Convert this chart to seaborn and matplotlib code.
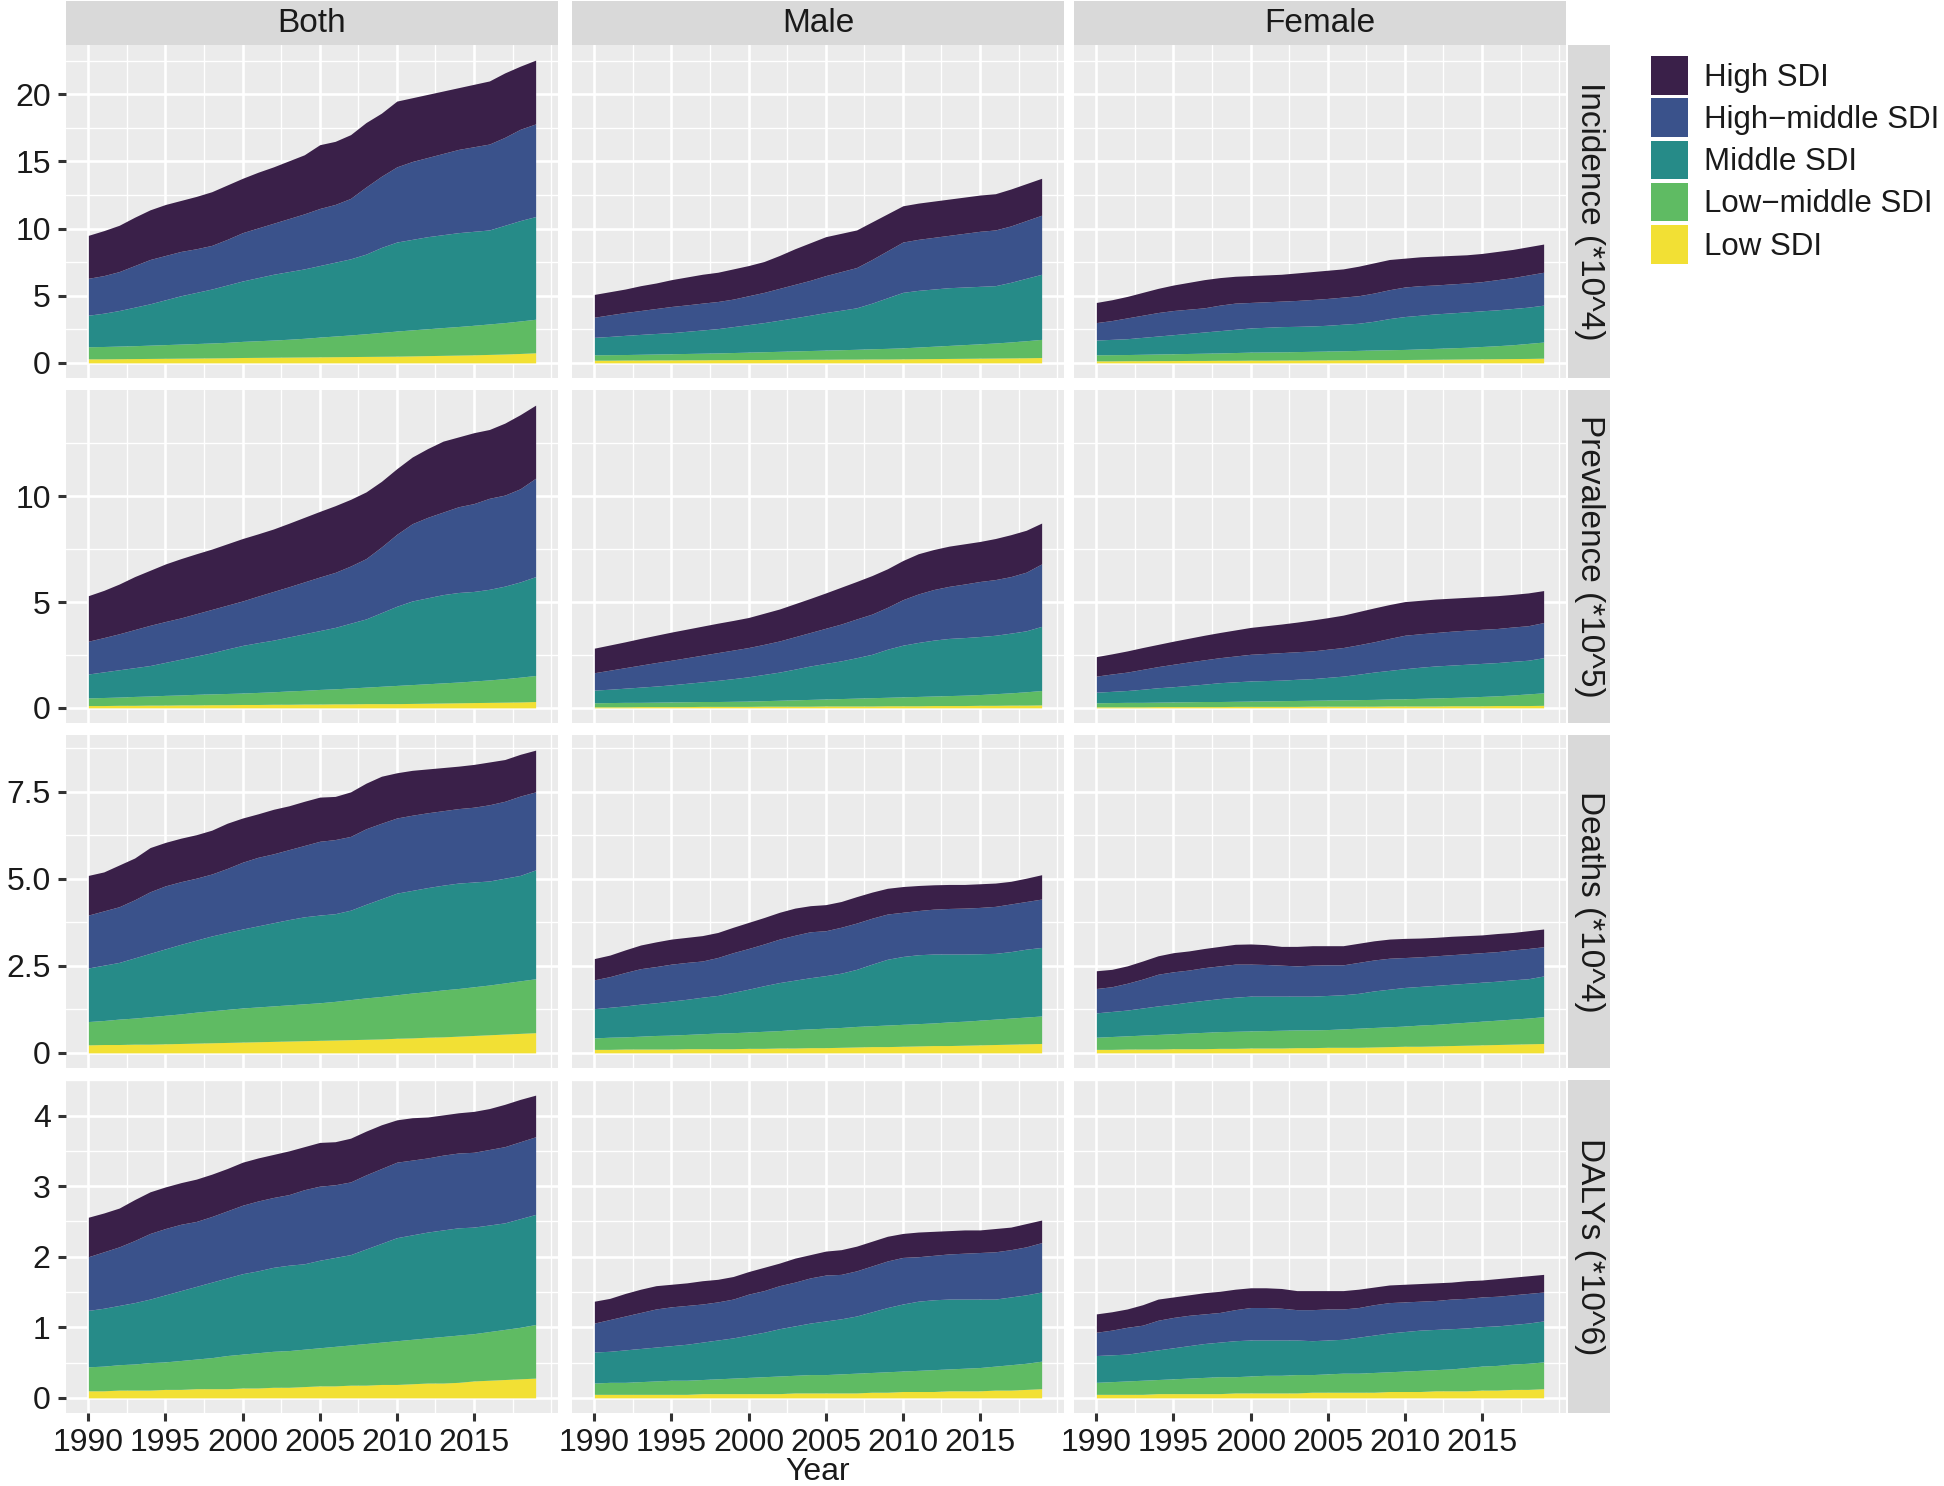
import numpy as np
import pandas as pd
import seaborn as sns
import matplotlib
matplotlib.use("Agg")
import matplotlib.pyplot as plt
from matplotlib.patches import Patch
from matplotlib.ticker import FixedLocator


years = list(range(1990, 2020))
sexes = ["Both", "Male", "Female"]
measures = ["Incidence (*10^4)", "Prevalence (*10^5)", "Deaths (*10^4)", "DALYs (*10^6)"]
regions = ["High SDI", "High\u2212middle SDI", "Middle SDI", "Low\u2212middle SDI", "Low SDI"]
region_keys = ["high", "highmid", "mid", "lowmid", "low"]

x_breaks = [1990, 1995, 2000, 2005, 2010, 2015]
x_labels = ["1990", "1995", "2000", "2005", "2010", "2015"]
y_breaks = [[0, 5, 10, 15, 20], [0, 5, 10], [0, 2.5, 5, 7.5], [0, 1, 2, 3, 4]]
y_labels = [["0", "5", "10", "15", "20"], ["0", "5", "10"],
            ["0", "2.5", "5.0", "7.5"], ["0", "1", "2", "3", "4"]]

# ---- Incidence (*10^4)
inc_both = dict(
    low=[0.30,0.30,0.31,0.32,0.33,0.34,0.35,0.36,0.37,0.38,0.40,0.41,0.42,0.43,0.44,0.45,0.46,0.47,0.48,0.49,0.50,0.52,0.54,0.56,0.58,0.60,0.63,0.66,0.70,0.75],
    lowmid=[0.90,0.92,0.94,0.96,0.99,1.02,1.05,1.08,1.11,1.15,1.20,1.24,1.28,1.33,1.39,1.47,1.54,1.61,1.69,1.78,1.87,1.94,2.00,2.07,2.13,2.20,2.27,2.34,2.42,2.50],
    mid=[2.35,2.48,2.65,2.87,3.08,3.34,3.60,3.81,4.02,4.27,4.50,4.70,4.90,5.04,5.17,5.33,5.50,5.67,5.93,6.33,6.63,6.74,6.86,6.92,6.99,7.00,7.00,7.25,7.48,7.65],
    highmid=[2.75,2.80,2.90,3.10,3.30,3.30,3.30,3.25,3.25,3.40,3.60,3.70,3.80,3.95,4.10,4.25,4.30,4.50,5.00,5.30,5.60,5.80,5.90,6.05,6.20,6.30,6.40,6.55,6.80,6.90],
    high=[3.20,3.35,3.45,3.60,3.70,3.80,3.80,3.90,4.00,4.05,4.05,4.15,4.20,4.30,4.40,4.75,4.70,4.75,4.80,4.70,4.90,4.75,4.70,4.65,4.60,4.65,4.70,4.80,4.70,4.75],
)
inc_male = dict(
    low=[0.20,0.20,0.21,0.21,0.22,0.22,0.23,0.23,0.24,0.24,0.25,0.25,0.26,0.26,0.27,0.27,0.28,0.28,0.29,0.29,0.30,0.31,0.32,0.33,0.34,0.35,0.36,0.37,0.38,0.40],
    lowmid=[0.40,0.41,0.41,0.43,0.44,0.46,0.47,0.49,0.50,0.53,0.55,0.58,0.60,0.63,0.65,0.68,0.70,0.73,0.76,0.79,0.82,0.87,0.92,0.97,1.02,1.07,1.12,1.19,1.27,1.35],
    mid=[1.30,1.36,1.43,1.48,1.53,1.57,1.65,1.73,1.81,1.93,2.05,2.17,2.32,2.47,2.63,2.80,2.94,3.09,3.40,3.77,4.13,4.22,4.26,4.30,4.29,4.28,4.27,4.44,4.65,4.85],
    highmid=[1.50,1.61,1.70,1.78,1.86,1.95,1.97,2.00,2.02,2.05,2.15,2.25,2.37,2.49,2.60,2.75,2.88,3.00,3.25,3.50,3.75,3.80,3.85,3.90,4.00,4.10,4.15,4.20,4.30,4.40],
    high=[1.70,1.72,1.75,1.85,1.90,2.00,2.08,2.15,2.18,2.25,2.25,2.30,2.45,2.65,2.80,2.90,2.85,2.80,2.80,2.75,2.70,2.70,2.70,2.70,2.70,2.70,2.70,2.75,2.75,2.75],
)
inc_female = dict(
    low=[0.15,0.15,0.16,0.16,0.17,0.17,0.18,0.18,0.19,0.19,0.20,0.20,0.21,0.21,0.22,0.22,0.23,0.23,0.24,0.24,0.25,0.26,0.27,0.28,0.29,0.30,0.31,0.32,0.33,0.35],
    lowmid=[0.45,0.46,0.46,0.48,0.49,0.51,0.52,0.54,0.55,0.58,0.60,0.61,0.61,0.63,0.64,0.66,0.67,0.70,0.72,0.74,0.75,0.78,0.81,0.84,0.87,0.92,0.97,1.03,1.12,1.20],
    mid=[1.10,1.14,1.18,1.26,1.34,1.42,1.50,1.58,1.66,1.73,1.80,1.84,1.88,1.88,1.89,1.92,1.98,2.02,2.14,2.32,2.45,2.51,2.57,2.60,2.64,2.66,2.67,2.70,2.70,2.75],
    highmid=[1.30,1.40,1.55,1.65,1.75,1.80,1.80,1.80,1.90,1.95,1.90,1.90,1.90,1.93,1.97,2.00,2.02,2.05,2.10,2.15,2.20,2.20,2.15,2.16,2.15,2.17,2.25,2.30,2.40,2.45],
    high=[1.50,1.55,1.60,1.70,1.80,1.90,2.00,2.10,2.05,2.00,2.00,2.00,2.00,2.05,2.08,2.10,2.10,2.20,2.25,2.25,2.15,2.15,2.15,2.12,2.10,2.10,2.10,2.10,2.10,2.10],
)

# ---- Prevalence (*10^5)
prev_both = dict(
    low=[0.11,0.11,0.12,0.12,0.13,0.13,0.14,0.14,0.15,0.15,0.16,0.16,0.17,0.17,0.18,0.18,0.19,0.19,0.20,0.20,0.20,0.21,0.22,0.23,0.24,0.25,0.26,0.27,0.28,0.30],
    lowmid=[0.36,0.38,0.39,0.42,0.43,0.46,0.47,0.50,0.51,0.53,0.54,0.57,0.59,0.63,0.65,0.69,0.71,0.75,0.78,0.82,0.86,0.89,0.92,0.95,0.98,1.02,1.06,1.11,1.17,1.23],
    mid=[1.13,1.21,1.29,1.36,1.44,1.56,1.69,1.81,1.94,2.10,2.25,2.35,2.44,2.55,2.67,2.78,2.90,3.06,3.22,3.48,3.74,3.95,4.06,4.17,4.23,4.23,4.28,4.37,4.50,4.67],
    highmid=[1.55,1.62,1.70,1.80,1.90,1.93,1.95,2.00,2.05,2.07,2.10,2.20,2.30,2.37,2.45,2.53,2.60,2.70,2.85,3.10,3.40,3.65,3.80,3.90,4.05,4.15,4.30,4.30,4.40,4.65],
    high=[2.15,2.23,2.35,2.50,2.60,2.72,2.80,2.83,2.85,2.90,2.95,2.94,2.95,3.00,3.05,3.10,3.15,3.15,3.15,3.10,3.10,3.15,3.25,3.35,3.30,3.35,3.25,3.40,3.50,3.45],
)
prev_male = dict(
    low=[0.05,0.05,0.05,0.06,0.06,0.06,0.06,0.07,0.07,0.07,0.07,0.08,0.08,0.08,0.08,0.09,0.09,0.09,0.09,0.10,0.10,0.10,0.11,0.11,0.11,0.12,0.12,0.13,0.13,0.14],
    lowmid=[0.19,0.20,0.21,0.20,0.21,0.22,0.23,0.23,0.23,0.24,0.25,0.26,0.28,0.30,0.32,0.33,0.35,0.37,0.39,0.40,0.42,0.44,0.45,0.47,0.49,0.51,0.55,0.58,0.63,0.68],
    mid=[0.60,0.63,0.67,0.72,0.76,0.81,0.87,0.93,1.00,1.07,1.15,1.24,1.33,1.45,1.58,1.68,1.78,1.91,2.05,2.27,2.44,2.55,2.64,2.70,2.72,2.74,2.76,2.82,2.88,3.03],
    highmid=[0.82,0.90,0.97,1.04,1.11,1.16,1.21,1.26,1.31,1.35,1.38,1.42,1.47,1.53,1.58,1.66,1.74,1.83,1.90,1.98,2.15,2.29,2.39,2.46,2.53,2.60,2.63,2.67,2.77,2.95],
    high=[1.16,1.19,1.22,1.26,1.29,1.33,1.35,1.37,1.39,1.40,1.42,1.47,1.51,1.56,1.61,1.67,1.74,1.77,1.82,1.82,1.85,1.90,1.89,1.90,1.90,1.89,1.94,1.98,1.98,1.93],
)
prev_female = dict(
    low=[0.05,0.05,0.05,0.05,0.06,0.06,0.06,0.06,0.06,0.07,0.07,0.07,0.07,0.07,0.08,0.08,0.08,0.08,0.08,0.09,0.09,0.09,0.09,0.10,0.10,0.10,0.11,0.11,0.11,0.12],
    lowmid=[0.19,0.20,0.21,0.21,0.21,0.22,0.23,0.24,0.24,0.24,0.25,0.26,0.27,0.28,0.28,0.29,0.30,0.31,0.32,0.33,0.34,0.36,0.38,0.39,0.41,0.44,0.46,0.50,0.55,0.59],
    mid=[0.50,0.53,0.56,0.62,0.68,0.72,0.77,0.82,0.89,0.92,0.95,0.96,0.97,1.00,1.02,1.07,1.12,1.20,1.29,1.35,1.42,1.47,1.51,1.53,1.55,1.56,1.57,1.59,1.59,1.66],
    highmid=[0.76,0.82,0.87,0.94,1.00,1.06,1.11,1.15,1.18,1.22,1.26,1.28,1.30,1.30,1.31,1.33,1.35,1.39,1.43,1.51,1.58,1.58,1.58,1.60,1.61,1.61,1.61,1.62,1.63,1.66],
    high=[0.92,0.95,1.00,1.03,1.05,1.09,1.12,1.16,1.19,1.23,1.27,1.31,1.35,1.40,1.46,1.49,1.53,1.57,1.60,1.60,1.59,1.58,1.58,1.56,1.55,1.55,1.55,1.54,1.55,1.51],
)

# ---- Deaths (*10^4)
death_both = dict(
    low=[0.23,0.24,0.24,0.25,0.25,0.26,0.27,0.28,0.29,0.30,0.31,0.32,0.33,0.34,0.35,0.36,0.37,0.38,0.39,0.40,0.42,0.43,0.45,0.46,0.48,0.50,0.52,0.54,0.56,0.58],
    lowmid=[0.67,0.69,0.73,0.75,0.79,0.82,0.85,0.89,0.92,0.95,0.98,1.00,1.02,1.04,1.06,1.08,1.11,1.15,1.19,1.22,1.25,1.29,1.31,1.35,1.37,1.40,1.43,1.47,1.51,1.55],
    mid=[1.54,1.59,1.63,1.73,1.82,1.91,2.00,2.07,2.15,2.21,2.27,2.33,2.39,2.45,2.50,2.52,2.52,2.57,2.69,2.81,2.92,2.95,2.99,3.01,3.03,3.01,2.99,3.01,3.03,3.13],
    highmid=[1.52,1.56,1.60,1.67,1.77,1.81,1.80,1.78,1.78,1.84,1.92,1.97,1.98,2.01,2.05,2.12,2.13,2.12,2.17,2.17,2.16,2.16,2.15,2.14,2.14,2.15,2.19,2.21,2.28,2.24],
    high=[1.14,1.12,1.20,1.20,1.27,1.25,1.25,1.25,1.26,1.30,1.27,1.25,1.28,1.26,1.27,1.27,1.24,1.28,1.31,1.35,1.30,1.29,1.26,1.24,1.22,1.23,1.23,1.20,1.20,1.20],
)
death_male = dict(
    low=[0.10,0.10,0.11,0.11,0.11,0.11,0.12,0.12,0.12,0.12,0.13,0.13,0.14,0.14,0.15,0.15,0.16,0.17,0.18,0.18,0.19,0.20,0.21,0.21,0.22,0.23,0.24,0.25,0.26,0.27],
    lowmid=[0.33,0.35,0.35,0.37,0.39,0.40,0.41,0.43,0.45,0.46,0.47,0.49,0.50,0.53,0.54,0.56,0.57,0.59,0.60,0.62,0.63,0.64,0.65,0.68,0.69,0.71,0.73,0.75,0.77,0.79],
    mid=[0.84,0.86,0.89,0.92,0.94,0.98,1.01,1.05,1.08,1.16,1.23,1.31,1.38,1.42,1.47,1.51,1.56,1.64,1.77,1.89,1.95,1.98,1.98,1.95,1.93,1.91,1.89,1.91,1.95,1.97],
    highmid=[0.83,0.88,0.96,1.02,1.04,1.06,1.06,1.04,1.09,1.14,1.17,1.20,1.25,1.29,1.32,1.29,1.32,1.33,1.32,1.30,1.27,1.27,1.29,1.31,1.32,1.33,1.35,1.37,1.37,1.39],
    high=[0.61,0.62,0.65,0.68,0.71,0.72,0.72,0.73,0.72,0.73,0.75,0.76,0.77,0.78,0.75,0.75,0.74,0.76,0.75,0.74,0.74,0.72,0.70,0.69,0.68,0.68,0.67,0.65,0.67,0.70],
)
death_female = dict(
    low=[0.10,0.10,0.11,0.11,0.11,0.12,0.12,0.12,0.13,0.13,0.14,0.14,0.14,0.15,0.15,0.16,0.16,0.16,0.17,0.18,0.19,0.19,0.20,0.21,0.22,0.23,0.24,0.25,0.26,0.27],
    lowmid=[0.35,0.37,0.38,0.40,0.42,0.43,0.45,0.47,0.48,0.49,0.49,0.50,0.51,0.51,0.51,0.51,0.53,0.55,0.56,0.57,0.58,0.61,0.62,0.64,0.66,0.68,0.70,0.72,0.74,0.77],
    mid=[0.70,0.72,0.74,0.78,0.82,0.85,0.89,0.92,0.95,0.98,1.00,0.99,0.98,0.97,0.97,0.98,0.98,1.00,1.05,1.08,1.11,1.11,1.12,1.12,1.12,1.12,1.12,1.13,1.13,1.17],
    highmid=[0.70,0.71,0.77,0.83,0.91,0.93,0.92,0.94,0.94,0.95,0.92,0.91,0.89,0.87,0.89,0.88,0.86,0.89,0.89,0.89,0.86,0.85,0.85,0.85,0.85,0.85,0.85,0.86,0.87,0.84],
    high=[0.51,0.50,0.50,0.52,0.53,0.55,0.55,0.55,0.56,0.57,0.58,0.57,0.54,0.56,0.56,0.55,0.55,0.55,0.55,0.55,0.55,0.54,0.53,0.53,0.52,0.51,0.52,0.50,0.51,0.51],
)

# ---- DALYs (*10^6)
daly_both = dict(
    low=[0.10,0.10,0.11,0.11,0.11,0.12,0.12,0.13,0.13,0.13,0.14,0.14,0.15,0.15,0.16,0.17,0.17,0.18,0.18,0.19,0.19,0.20,0.21,0.21,0.22,0.24,0.25,0.26,0.27,0.28],
    lowmid=[0.34,0.35,0.36,0.37,0.39,0.39,0.41,0.42,0.44,0.47,0.48,0.50,0.51,0.52,0.53,0.54,0.56,0.57,0.59,0.60,0.62,0.63,0.64,0.66,0.67,0.67,0.69,0.71,0.73,0.76],
    mid=[0.80,0.82,0.84,0.87,0.90,0.95,0.99,1.03,1.07,1.10,1.14,1.16,1.19,1.21,1.21,1.24,1.26,1.28,1.34,1.40,1.46,1.48,1.50,1.51,1.52,1.51,1.51,1.51,1.54,1.56],
    highmid=[0.76,0.80,0.83,0.88,0.93,0.94,0.94,0.92,0.93,0.95,0.97,0.99,0.99,1.00,1.05,1.05,1.03,1.03,1.05,1.06,1.07,1.06,1.05,1.06,1.06,1.06,1.07,1.08,1.09,1.10],
    high=[0.56,0.55,0.55,0.58,0.59,0.59,0.59,0.60,0.60,0.60,0.61,0.61,0.61,0.62,0.61,0.62,0.61,0.62,0.62,0.62,0.60,0.60,0.58,0.57,0.57,0.58,0.58,0.60,0.60,0.59],
)
daly_male = dict(
    low=[0.05,0.05,0.05,0.05,0.05,0.05,0.05,0.06,0.06,0.06,0.06,0.06,0.06,0.07,0.07,0.07,0.07,0.07,0.08,0.08,0.09,0.09,0.09,0.10,0.10,0.10,0.11,0.11,0.12,0.13],
    lowmid=[0.16,0.17,0.17,0.18,0.19,0.20,0.20,0.20,0.21,0.22,0.23,0.24,0.25,0.25,0.26,0.26,0.27,0.28,0.28,0.29,0.29,0.30,0.31,0.31,0.32,0.33,0.34,0.36,0.37,0.39],
    mid=[0.44,0.44,0.46,0.47,0.48,0.49,0.51,0.53,0.55,0.57,0.60,0.63,0.67,0.70,0.73,0.76,0.78,0.81,0.86,0.91,0.95,0.98,0.99,0.99,0.98,0.97,0.95,0.96,0.97,0.98],
    highmid=[0.41,0.45,0.48,0.51,0.54,0.55,0.55,0.54,0.54,0.55,0.58,0.59,0.61,0.62,0.64,0.65,0.63,0.64,0.65,0.66,0.66,0.63,0.63,0.64,0.65,0.66,0.67,0.67,0.68,0.70],
    high=[0.31,0.30,0.32,0.33,0.33,0.32,0.32,0.33,0.32,0.32,0.32,0.33,0.32,0.34,0.33,0.34,0.35,0.35,0.35,0.35,0.34,0.35,0.34,0.33,0.33,0.32,0.33,0.32,0.33,0.32],
)
daly_female = dict(
    low=[0.05,0.05,0.05,0.05,0.06,0.06,0.06,0.06,0.06,0.07,0.07,0.07,0.07,0.07,0.08,0.08,0.08,0.08,0.08,0.09,0.09,0.09,0.10,0.10,0.10,0.11,0.11,0.12,0.12,0.13],
    lowmid=[0.17,0.18,0.19,0.20,0.20,0.21,0.22,0.23,0.24,0.23,0.24,0.25,0.25,0.26,0.25,0.26,0.27,0.27,0.28,0.28,0.29,0.30,0.30,0.31,0.33,0.34,0.35,0.36,0.37,0.38],
    mid=[0.38,0.38,0.38,0.40,0.42,0.44,0.46,0.48,0.49,0.51,0.51,0.50,0.50,0.49,0.48,0.48,0.48,0.51,0.53,0.55,0.56,0.57,0.57,0.57,0.56,0.56,0.56,0.56,0.57,0.58],
    highmid=[0.33,0.35,0.38,0.38,0.42,0.43,0.43,0.42,0.42,0.44,0.46,0.46,0.45,0.43,0.44,0.44,0.43,0.42,0.43,0.43,0.42,0.41,0.41,0.42,0.42,0.42,0.42,0.42,0.42,0.41],
    high=[0.26,0.26,0.26,0.29,0.30,0.29,0.29,0.30,0.30,0.29,0.28,0.28,0.28,0.27,0.27,0.26,0.26,0.26,0.25,0.25,0.25,0.25,0.25,0.24,0.25,0.24,0.25,0.25,0.25,0.25],
)

grid_rows = [
    [inc_both, inc_male, inc_female],
    [prev_both, prev_male, prev_female],
    [death_both, death_male, death_female],
    [daly_both, daly_male, daly_female],
]

region_colors = {
    "high": "#3a2049",
    "highmid": "#3a528b",
    "mid": "#268b88",
    "lowmid": "#5fbb63",
    "low": "#f2e034",
}
stack_order = ["low", "lowmid", "mid", "highmid", "high"]

sns.set_theme(style="darkgrid", rc={"axes.facecolor": "#EBEBEB", "figure.facecolor": "white"})
plt.rcParams["font.family"] = ["Liberation Sans", "DejaVu Sans"]

W, H = 1944, 1486
fig = plt.figure(figsize=(W / 100, H / 100), dpi=100)

col_left = [66, 572, 1074]
col_w = 492
row_top = [45, 390, 735, 1080]
row_h = 333
text_col = "#1a1a1a"
strip_col = "#D9D9D9"
fs_tick = 23
fs_strip = 24
fs_leg = 22.5


def box(x, y, w, h):
    return [x / W, 1 - (y + h) / H, w / W, h / H]


x_minor = [b + 2.5 for b in x_breaks] + [2020]

for r, row in enumerate(grid_rows):
    totals = [np.sum([p[k] for k in stack_order], axis=0).max() for p in row]
    ymax = max(totals)
    yb = y_breaks[r]
    step = yb[1] - yb[0]
    y_minor = [b + step / 2 for b in yb] + [yb[-1] + step * 1.5]
    for c, panel in enumerate(row):
        ax = fig.add_axes(box(col_left[c], row_top[r], col_w, row_h))
        ax.stackplot(years, *[panel[k] for k in stack_order],
                     colors=[region_colors[k] for k in stack_order], linewidth=0)
        ax.set_xlim(1988.55, 2020.45)
        ax.set_ylim(-0.05 * ymax, 1.05 * ymax)
        ax.xaxis.set_major_locator(FixedLocator(x_breaks))
        ax.xaxis.set_minor_locator(FixedLocator(x_minor))
        ax.yaxis.set_major_locator(FixedLocator(yb))
        ax.yaxis.set_minor_locator(FixedLocator(y_minor))
        ax.set_xticklabels(x_labels)
        ax.set_yticklabels(y_labels[r])
        ax.grid(which="major", color="white", linewidth=1.9)
        ax.grid(which="minor", color="white", linewidth=1.0)
        ax.set_axisbelow(True)
        for sp in ax.spines.values():
            sp.set_visible(False)
        ax.tick_params(which="minor", length=0)
        ax.tick_params(which="major", length=6, width=2.2, color="#333333",
                       labelsize=fs_tick, labelcolor=text_col, pad=5,
                       bottom=(r == 3), labelbottom=(r == 3),
                       left=(c == 0), labelleft=(c == 0))

        if r == 0:
            sax = fig.add_axes(box(col_left[c], 1, col_w, 44))
            sax.set_facecolor(strip_col)
            sax.set_xticks([])
            sax.set_yticks([])
            sax.grid(False)
            for sp in sax.spines.values():
                sp.set_visible(False)
            sax.text(0.5, 0.5, sexes[c], ha="center", va="center",
                     fontsize=fs_strip, color=text_col, transform=sax.transAxes)

    rax = fig.add_axes(box(1568, row_top[r], 42, row_h))
    rax.set_facecolor(strip_col)
    rax.set_xticks([])
    rax.set_yticks([])
    rax.grid(False)
    for sp in rax.spines.values():
        sp.set_visible(False)
    rax.text(0.5, 0.5, measures[r], ha="center", va="center", rotation=270,
             fontsize=fs_strip, color=text_col, transform=rax.transAxes)

fig.text((572 + 1064) / 2 / W, 1 - 1472 / H, "Year", ha="center", va="center",
         fontsize=fs_tick, color=text_col)

handles = [Patch(facecolor=region_colors[k], edgecolor="none") for k in region_keys]
fig.legend(handles, regions, loc="upper left", bbox_to_anchor=(1651 / W, 1 - 56 / H),
           frameon=False, fontsize=fs_leg, handlelength=1.19, handleheight=1.52,
           labelspacing=0.12, handletextpad=0.5, borderaxespad=0, borderpad=0,
           labelcolor=text_col)

fig.savefig("out.png", dpi=100)
